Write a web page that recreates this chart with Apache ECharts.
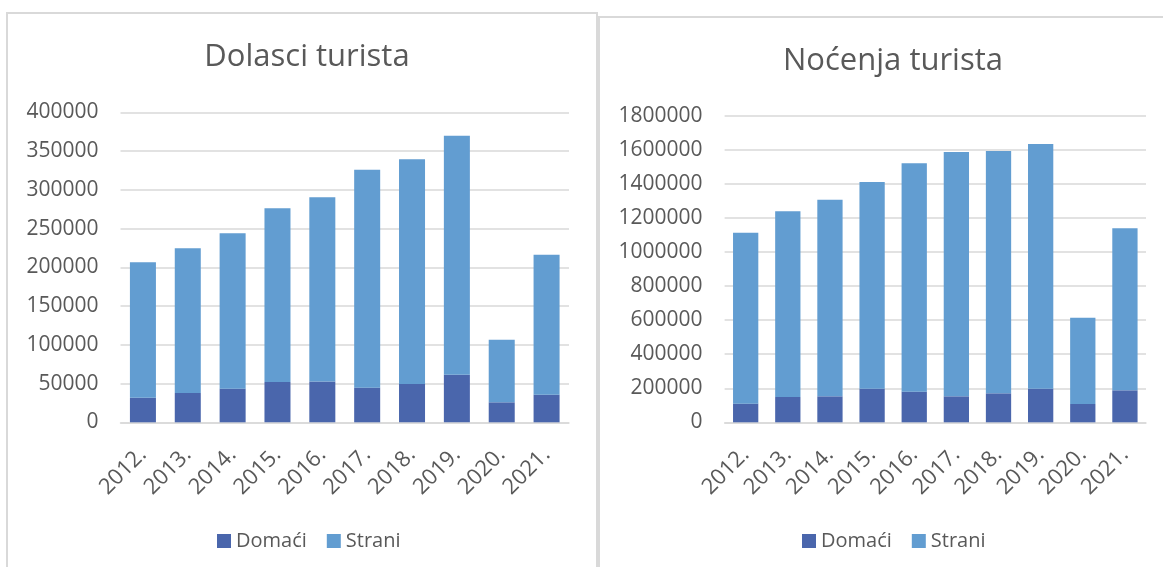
<!DOCTYPE html>
<html>
<head>
<meta charset="utf-8">
<script src="https://cdn.jsdelivr.net/npm/echarts@6/dist/echarts.min.js"></script>
<style>
html,body{margin:0;padding:0;background:#fff;}
#c{width:1163px;height:567px;}
</style>
</head>
<body>
<div id="c"></div>
<script>
// Data
const years = ['2012.', '2013.', '2014.', '2015.', '2016.', '2017.', '2018.', '2019.', '2020.', '2021.'];
const dolasciDomaci = [31700, 37800, 43400, 52000, 52500, 44700, 49400, 61500, 25800, 35600];
const dolasciStrani = [174800, 186700, 200500, 224100, 237800, 281300, 290000, 308400, 80800, 180700];
const nocenjaDomaci = [109500, 148600, 152700, 197500, 180000, 152700, 170400, 197500, 107500, 188000];
const nocenjaStrani = [1004500, 1091400, 1155300, 1214500, 1343000, 1435300, 1423600, 1437500, 507100, 952000];
const titles = ['Dolasci turista', 'Noćenja turista'];
const seriesNames = ['Domaći', 'Strani'];

const FONT = 'Open Sans';
const TXT = '#595959';
const GRID = '#d9d9d9';
const C1 = '#4A66AC';
const C2 = '#629DD1';

const chart = echarts.init(document.getElementById('c'), null, {renderer: 'canvas'});

function yAxis(idx, max, interval) {
  return {
    type: 'value', gridIndex: idx, min: 0, max: max, interval: interval,
    axisLine: {show: false}, axisTick: {show: false},
    splitLine: {lineStyle: {color: GRID, width: 1.5}},
    axisLabel: {color: TXT, fontFamily: FONT, fontSize: 21, margin: 22, formatter: v => String(v)}
  };
}
function xAxis(idx) {
  return {
    type: 'category', gridIndex: idx, data: years,
    axisLine: {lineStyle: {color: GRID, width: 1.5}},
    axisTick: {show: false},
    axisLabel: {color: TXT, fontFamily: FONT, fontSize: 22, rotate: 45, margin: 29, interval: 0}
  };
}
function bar(name, data, idx, color, width) {
  return {
    name: name, type: 'bar', stack: 's' + idx, xAxisIndex: idx, yAxisIndex: idx,
    data: data, barWidth: width, itemStyle: {color: color}, silent: true
  };
}

chart.setOption({
  backgroundColor: '#fff',
  animation: false,
  title: [
    {text: titles[0], left: 302, top: 37, textAlign: 'center',
     textStyle: {color: TXT, fontFamily: FONT, fontSize: 31, fontWeight: 'normal'}},
    {text: titles[1], left: 888, top: 41, textAlign: 'center',
     textStyle: {color: TXT, fontFamily: FONT, fontSize: 31, fontWeight: 'normal'}}
  ],
  legend: [
    {data: seriesNames.map(n => ({name: n})), left: 212, top: 526, itemWidth: 14, itemHeight: 14, itemGap: 20,
     icon: 'rect', textStyle: {color: TXT, fontFamily: FONT, fontSize: 20}},
    {data: seriesNames.map(n => ({name: n + ' '})), left: 797, top: 526, itemWidth: 14, itemHeight: 14, itemGap: 20,
     icon: 'rect', textStyle: {color: TXT, fontFamily: FONT, fontSize: 20},
     formatter: n => n.trim()}
  ],
  grid: [
    {left: 120.5, top: 112.3, width: 448.5, height: 310, containLabel: false},
    {left: 724.6, top: 116, width: 421.4, height: 306.3, containLabel: false}
  ],
  xAxis: [xAxis(0), xAxis(1)],
  yAxis: [yAxis(0, 400000, 50000), yAxis(1, 1800000, 200000)],
  series: [
    bar(seriesNames[0], dolasciDomaci, 0, C1, '58%'),
    bar(seriesNames[1], dolasciStrani, 0, C2, '58%'),
    bar(seriesNames[0] + ' ', nocenjaDomaci, 1, C1, '60%'),
    bar(seriesNames[1] + ' ', nocenjaStrani, 1, C2, '60%')
  ],
  graphic: [
    {type: 'rect', shape: {x: 7, y: 13, width: 590, height: 620}, style: {fill: 'none', stroke: GRID, lineWidth: 2}, silent: true, z: -1},
    {type: 'rect', shape: {x: 599, y: 17, width: 620, height: 620}, style: {fill: 'none', stroke: GRID, lineWidth: 2}, silent: true, z: -1}
  ]
});
</script>
</body>
</html>
